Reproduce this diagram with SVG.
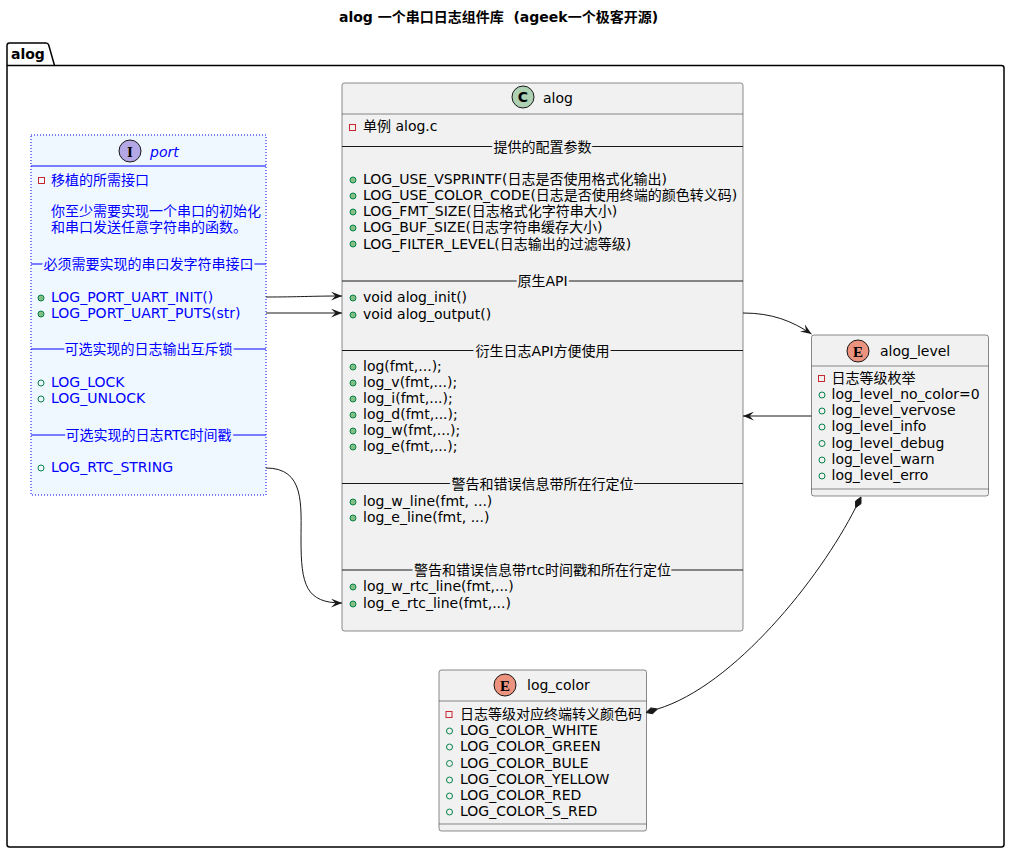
<svg xmlns="http://www.w3.org/2000/svg" width="1010" height="853" viewBox="0 0 1010 853">
<defs>
<style>
text{font-family:"DejaVu Sans","Noto Sans CJK SC",sans-serif;font-size:14px;fill:#000}
.title{font-weight:bold}
.blue{fill:#0000FF}
.box{fill:#F1F1F1;stroke:#181818;stroke-width:0.5}
.hdr{stroke:#181818;stroke-width:0.5}
.sep{stroke:#181818;stroke-width:1}
.bsep{stroke:#0000FF;stroke-width:1}
.st{text-anchor:middle;paint-order:stroke;stroke:#F1F1F1;stroke-width:5px;stroke-linejoin:round}
.stp{text-anchor:middle;paint-order:stroke;stroke:#F0F8FF;stroke-width:5px;stroke-linejoin:round;fill:#0000FF}
.priv{fill:none;stroke:#C82930;stroke-width:1}
.meth{fill:#84BE84;stroke:#038048;stroke-width:1}
.fld{fill:none;stroke:#038048;stroke-width:1}
.conn{fill:none;stroke:#181818;stroke-width:1}
.letter{font-family:"Liberation Serif",serif;font-weight:bold;font-size:15px;text-anchor:middle}
</style>
<marker id="arr" viewBox="0 0 10 8" refX="10" refY="4" markerWidth="11" markerHeight="9" markerUnits="userSpaceOnUse" orient="auto">
<path d="M0,0 L10,4 L0,8 L4,4 Z" fill="#181818"/>
</marker>
</defs>
<rect width="1010" height="853" fill="#FFFFFF"/>
<text class="title" x="498.5" y="22" text-anchor="middle" xml:space="preserve">alog 一个串口日志组件库  (ageek一个极客开源)</text>

<g id="pkg_alog">
<path d="M9.5,43 L46,43 Q48,43 48.7,45 L54.5,65.5 L1001.5,65.5 Q1004,65.5 1004,68 L1004,844.5 Q1004,847 1001.5,847 L9.5,847 Q7,847 7,844.5 L7,45.5 Q7,43 9.5,43 Z" fill="none" stroke="#000" stroke-width="1.5"/>
<line x1="7" y1="65.5" x2="54.5" y2="65.5" stroke="#000" stroke-width="1.5"/>
<text class="title" x="11" y="58.5">alog</text>
</g>

<g id="port">
<rect x="31" y="135" width="235" height="360" fill="#F0F8FF" stroke="#0000FF" stroke-width="1" stroke-dasharray="1,2"/>
<circle cx="130" cy="151" r="11" fill="#B4A7E5" stroke="#181818" stroke-width="1"/>
<text class="letter" x="130" y="156.5">I</text>
<text class="blue" x="150" y="156.5" font-style="italic">port</text>
<line class="bsep" x1="31" y1="166" x2="266" y2="166"/>
<rect class="priv" x="38.5" y="177.5" width="6" height="6"/>
<text class="blue" x="51" y="184.5">移植的所需接口</text>
<text class="blue" x="51" y="216">你至少需要实现一个串口的初始化</text>
<text class="blue" x="51" y="232">和串口发送任意字符串的函数。</text>
<line class="bsep" x1="31" y1="264" x2="266" y2="264"/>
<text class="stp" x="148.5" y="269">必须需要实现的串口发字符串接口</text>
<circle class="meth" cx="41" cy="298" r="3"/>
<text class="blue" x="51" y="302">LOG_PORT_UART_INIT()</text>
<circle class="meth" cx="41" cy="314" r="3"/>
<text class="blue" x="51" y="318">LOG_PORT_UART_PUTS(str)</text>
<line class="bsep" x1="31" y1="349" x2="266" y2="349"/>
<text class="stp" x="148.5" y="354">可选实现的日志输出互斥锁</text>
<circle class="fld" cx="41" cy="383" r="3"/>
<text class="blue" x="51" y="387">LOG_LOCK</text>
<circle class="fld" cx="41" cy="399" r="3"/>
<text class="blue" x="51" y="403">LOG_UNLOCK</text>
<line class="bsep" x1="31" y1="435" x2="266" y2="435"/>
<text class="stp" x="148.5" y="440">可选实现的日志RTC时间戳</text>
<circle class="fld" cx="41" cy="468" r="3"/>
<text class="blue" x="51" y="472">LOG_RTC_STRING</text>
</g>

<g id="alog">
<rect class="box" x="342" y="83" width="401" height="548" rx="2.5"/>
<circle cx="523" cy="97" r="11" fill="#ADD1B2" stroke="#181818" stroke-width="1"/>
<text x="523" y="102" text-anchor="middle" font-weight="bold" font-size="14">C</text>
<text x="543" y="103">alog</text>
<line class="hdr" x1="342" y1="114" x2="743" y2="114"/>
<rect class="priv" x="349.5" y="124.5" width="6" height="6"/>
<text x="363" y="131">单例 alog.c</text>
<line class="sep" x1="342" y1="146.5" x2="743" y2="146.5"/>
<text class="st" x="542.5" y="151.5">提供的配置参数</text>
<circle class="meth" cx="353" cy="180" r="3"/>
<text x="363" y="184">LOG_USE_VSPRINTF(日志是否使用格式化输出)</text>
<circle class="meth" cx="353" cy="196" r="3"/>
<text x="363" y="200">LOG_USE_COLOR_CODE(日志是否使用终端的颜色转义码)</text>
<circle class="meth" cx="353" cy="212" r="3"/>
<text x="363" y="216">LOG_FMT_SIZE(日志格式化字符串大小)</text>
<circle class="meth" cx="353" cy="228" r="3"/>
<text x="363" y="232">LOG_BUF_SIZE(日志字符串缓存大小)</text>
<circle class="meth" cx="353" cy="244" r="3"/>
<text x="363" y="248.5">LOG_FILTER_LEVEL(日志输出的过滤等级)</text>
<line class="sep" x1="342" y1="281" x2="743" y2="281"/>
<text class="st" x="542.5" y="286">原生API</text>
<circle class="meth" cx="353" cy="298" r="3"/>
<text x="363" y="302">void alog_init()</text>
<circle class="meth" cx="353" cy="315" r="3"/>
<text x="363" y="319">void alog_output()</text>
<line class="sep" x1="342" y1="350.5" x2="743" y2="350.5"/>
<text class="st" x="542.5" y="355.5">衍生日志API方便使用</text>
<circle class="meth" cx="353" cy="367" r="3"/>
<text x="363" y="371">log(fmt,...);</text>
<circle class="meth" cx="353" cy="383" r="3"/>
<text x="363" y="387">log_v(fmt,...);</text>
<circle class="meth" cx="353" cy="399" r="3"/>
<text x="363" y="403">log_i(fmt,...);</text>
<circle class="meth" cx="353" cy="415" r="3"/>
<text x="363" y="419">log_d(fmt,...);</text>
<circle class="meth" cx="353" cy="431" r="3"/>
<text x="363" y="435">log_w(fmt,...);</text>
<circle class="meth" cx="353" cy="447" r="3"/>
<text x="363" y="451">log_e(fmt,...);</text>
<line class="sep" x1="342" y1="483.5" x2="743" y2="483.5"/>
<text class="st" x="542.5" y="488.5">警告和错误信息带所在行定位</text>
<circle class="meth" cx="353" cy="502" r="3"/>
<text x="363" y="506">log_w_line(fmt, ...)</text>
<circle class="meth" cx="353" cy="518" r="3"/>
<text x="363" y="522">log_e_line(fmt, ...)</text>
<line class="sep" x1="342" y1="570" x2="743" y2="570"/>
<text class="st" x="542.5" y="575">警告和错误信息带rtc时间戳和所在行定位</text>
<circle class="meth" cx="353" cy="587" r="3"/>
<text x="363" y="591">log_w_rtc_line(fmt,...)</text>
<circle class="meth" cx="353" cy="604" r="3"/>
<text x="363" y="608">log_e_rtc_line(fmt,...)</text>
</g>

<g id="alog_level">
<rect class="box" x="811.5" y="335" width="177" height="161" rx="2.5"/>
<circle cx="858" cy="351" r="11" fill="#EB937F" stroke="#181818" stroke-width="1"/>
<text class="letter" x="858" y="356.5">E</text>
<text x="880" y="355.5">alog_level</text>
<line class="hdr" x1="811.5" y1="366" x2="988.5" y2="366"/>
<rect class="priv" x="818.5" y="375.5" width="6" height="6"/>
<text x="831.5" y="382.5">日志等级枚举</text>
<circle class="fld" cx="822" cy="395" r="3"/>
<text x="831.5" y="399">log_level_no_color=0</text>
<circle class="fld" cx="822" cy="411" r="3"/>
<text x="831.5" y="415">log_level_vervose</text>
<circle class="fld" cx="822" cy="427" r="3"/>
<text x="831.5" y="431">log_level_info</text>
<circle class="fld" cx="822" cy="443.5" r="3"/>
<text x="831.5" y="447.5">log_level_debug</text>
<circle class="fld" cx="822" cy="460" r="3"/>
<text x="831.5" y="464">log_level_warn</text>
<circle class="fld" cx="822" cy="476" r="3"/>
<text x="831.5" y="480">log_level_erro</text>
<line class="hdr" x1="811.5" y1="489" x2="988.5" y2="489"/>
</g>

<g id="log_color">
<rect class="box" x="439" y="670" width="207.5" height="161" rx="2.5"/>
<circle cx="505" cy="685" r="11" fill="#EB937F" stroke="#181818" stroke-width="1"/>
<text class="letter" x="505" y="690.5">E</text>
<text x="527" y="690">log_color</text>
<line class="hdr" x1="439" y1="701" x2="646.5" y2="701"/>
<rect class="priv" x="446" y="711.5" width="6" height="6"/>
<text x="460" y="718.5">日志等级对应终端转义颜色码</text>
<circle class="fld" cx="449.5" cy="731" r="3"/>
<text x="460" y="735">LOG_COLOR_WHITE</text>
<circle class="fld" cx="449.5" cy="747" r="3"/>
<text x="460" y="751">LOG_COLOR_GREEN</text>
<circle class="fld" cx="449.5" cy="763.5" r="3"/>
<text x="460" y="767.5">LOG_COLOR_BULE</text>
<circle class="fld" cx="449.5" cy="780" r="3"/>
<text x="460" y="784">LOG_COLOR_YELLOW</text>
<circle class="fld" cx="449.5" cy="796" r="3"/>
<text x="460" y="800">LOG_COLOR_RED</text>
<circle class="fld" cx="449.5" cy="812" r="3"/>
<text x="460" y="816">LOG_COLOR_S_RED</text>
<line class="hdr" x1="439" y1="824" x2="646.5" y2="824"/>
</g>

<g id="connectors">
<path class="conn" d="M266,297 C300,297 310,296 342,296" marker-end="url(#arr)"/>
<path class="conn" d="M266,313 L342,313" marker-end="url(#arr)"/>
<path class="conn" d="M266,468 C305,468 301,505 301,540 C301,585 306,603 342,603" marker-end="url(#arr)"/>
<path class="conn" d="M743,313 C772,313 792,321 811.5,334" marker-end="url(#arr)"/>
<path class="conn" d="M811.5,416 L743,416" marker-end="url(#arr)"/>
<path class="conn" d="M855.6,507.7 C819.6,578.9 734,685.8 657.5,709"/>
<polygon points="861,497 861,503.7 855.6,507.7 855.6,501" fill="#181818" stroke="#181818" stroke-width="1"/>
<polygon points="646,712.5 652.6,713.7 657.5,709 650.8,707.9" fill="#181818" stroke="#181818" stroke-width="1"/>
</g>
</svg>
